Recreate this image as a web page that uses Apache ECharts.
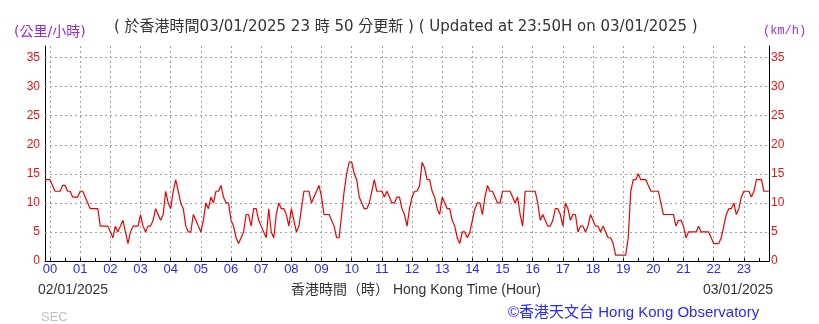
<!DOCTYPE html>
<html><head><meta charset="utf-8">
<script src="https://cdn.jsdelivr.net/npm/echarts@6/dist/echarts.min.js"></script>
<style>html,body{margin:0;padding:0;background:#fff}#c{width:819px;height:324px}</style>
</head><body><div id="c"></div>
<script>
// 10-minute mean wind speed (km/h), sampled every 5 minutes from 23:50 (02/01) to 23:50 (03/01)
const startMinute = -10;
const stepMinutes = 5;
const speed = [
  14,14,                                  // 23:50, 23:55 (prev day)
  14,13,12,12,12,13,13,12,12,11,11,11,    // 00
  12,12,11,10,9,9,9,9,6,6,6,6,            // 01
  5,4,6,5,6,7,5,3,5,6,6,6,                // 02
  8,6,5,6,6,7,9,8,7,8,12,10,              // 03
  9,12,14,12,10,9,6,5,5,8,7,6,            // 04
  5,7,10,9,11,10,12,12,13,11,10,10,       // 05
  7,6,4,3,4,5,8,8,6,9,9,7,                // 06
  6,5,4,9,5,4,8,10,9,9,8,6,               // 07
  9,7,5,6,9,12,12,12,10,11,12,13,         // 08
  11,8,8,8,7,6,4,4,8,12,15,17,            // 09
  17,15,14,11,10,9,9,10,12,14,12,12,      // 10
  12,11,12,11,10,10,11,11,9,8,6,9,        // 11
  11,12,12,13,17,16,14,14,12,11,9,8,      // 12
  11,10,9,9,7,6,4,3,5,5,4,5,              // 13
  7,9,10,10,8,11,13,12,12,11,10,10,       // 14
  12,12,12,12,11,10,11,8,6,12,12,12,      // 15
  12,12,10,7,8,7,6,6,7,9,9,8,             // 16
  6,10,9,7,8,8,5,6,6,5,6,8,               // 17
  7,6,6,5,6,5,4,4,3,1,1,1,                // 18
  1,1,4,12,14,14,15,14,14,14,13,12,       // 19
  12,12,12,10,8,8,8,8,8,6,7,7,            // 20
  6,4,5,5,5,5,6,5,5,5,5,4,                // 21
  3,3,3,4,6,8,9,9,10,8,9,11,              // 22
  12,12,12,11,12,14,14,14,12,12,12        // 23 (to 23:50)
];
const yTicks = [5,10,15,20,25,30,35];
const yMin = 0, yMax = 37, yInterval = 5;

const titleText = '( 於香港時間03/01/2025 23 時 50 分更新 ) ( Updated at 23:50H on 03/01/2025 )';
const unitLeft = '(公里/小時)';
const unitRight = '(km/h)';
const dateStart = '02/01/2025';
const dateEnd = '03/01/2025';
const xTitle = '香港時間（時） Hong Kong Time (Hour)';
const credit = '©香港天文台 Hong Kong Observatory';
const stationCode = 'SEC';

const categories = speed.map((_, i) => {
  let m = ((startMinute + i * stepMinutes) % 1440 + 1440) % 1440;
  return String(Math.floor(m / 60)).padStart(2, '0') + ':' + String(m % 60).padStart(2, '0');
});
const isHour = (i, v) => v.endsWith(':00');
const isHalf = (i, v) => v.endsWith(':00') || v.endsWith(':30');

const FONT = "'Liberation Sans', 'Noto Sans CJK TC', sans-serif";
const WIDE = "'DejaVu Sans', 'Noto Sans CJK TC', sans-serif";
const purple = '#9a2fd8';
const red = '#ee1111';
const blue = '#2a2af5';
const gridStyle = {color: '#a0a0a0', type: [2, 3], width: 1};

const chart = echarts.init(document.getElementById('c'), null, {renderer: 'canvas'});
chart.setOption({
  animation: false,
  backgroundColor: '#fff',
  textStyle: {fontFamily: FONT},
  title: [
    {text: titleText, left: 109, top: 15, textStyle: {fontSize: 15, fontWeight: 'normal', color: '#333', fontFamily: WIDE}},
    {text: unitLeft, left: 9, top: 20, textStyle: {fontSize: 14, fontWeight: 'normal', color: purple, fontFamily: WIDE}},
    {text: unitRight, left: 758, top: 20, textStyle: {fontSize: 12, fontWeight: 'normal', color: purple, fontFamily: "'Liberation Mono', monospace"}},
    {text: dateStart, left: 33, top: 278, textStyle: {fontSize: 14, fontWeight: 'normal', color: '#333', fontFamily: FONT}},
    {text: xTitle, left: 286, top: 278, textStyle: {fontSize: 14, fontWeight: 'normal', color: '#333', fontFamily: FONT}},
    {text: dateEnd, left: 698, top: 278, textStyle: {fontSize: 14, fontWeight: 'normal', color: '#333', fontFamily: FONT}},
    {text: credit, left: 503, top: 300, textStyle: {fontSize: 15, fontWeight: 'normal', color: blue, fontFamily: FONT}},
    {text: stationCode, left: 36, top: 306, textStyle: {fontSize: 13, fontWeight: 'normal', color: '#c0c0c0', fontFamily: FONT}}
  ],
  grid: {left: 45, right: 50, top: 46, bottom: 63, containLabel: false},
  xAxis: {
    type: 'category',
    data: categories,
    boundaryGap: false,
    axisLine: {show: true, lineStyle: {color: '#000', width: 1}},
    axisTick: {show: true, inside: true, length: 3, interval: isHalf, lineStyle: {color: '#000'}},
    axisLabel: {interval: isHour, formatter: v => v.slice(0, 2), color: blue, fontSize: 13, margin: 2, fontFamily: FONT},
    splitLine: {show: true, interval: isHour, lineStyle: gridStyle}
  },
  yAxis: [
    {
      type: 'value', position: 'left', min: yMin, max: yMax, interval: yInterval,
      axisLine: {show: true, lineStyle: {color: '#000', width: 1}},
      axisTick: {show: false},
      splitLine: {show: false},
      axisLabel: {color: red, fontSize: 12, margin: 5, formatter: v => (v % yInterval === 0 ? String(v) : ''), fontFamily: FONT}
    },
    {
      type: 'value', position: 'right', min: yMin, max: yMax, interval: yInterval,
      axisLine: {show: true, lineStyle: {color: '#000', width: 1}},
      axisTick: {show: false},
      splitLine: {show: false},
      axisLabel: {color: red, fontSize: 12, margin: 2, formatter: v => (v % yInterval === 0 ? String(v) : ''), fontFamily: FONT}
    }
  ],
  series: [{
    type: 'line',
    data: speed,
    yAxisIndex: 0,
    showSymbol: false,
    symbol: 'none',
    lineStyle: {color: '#ee0000', width: 1.2},
    z: 5,
    markLine: {
      silent: true,
      symbol: 'none',
      label: {show: false},
      lineStyle: gridStyle,
      data: yTicks.map(v => ({yAxis: v})),
      z: 1
    }
  }]
});
</script></body></html>
